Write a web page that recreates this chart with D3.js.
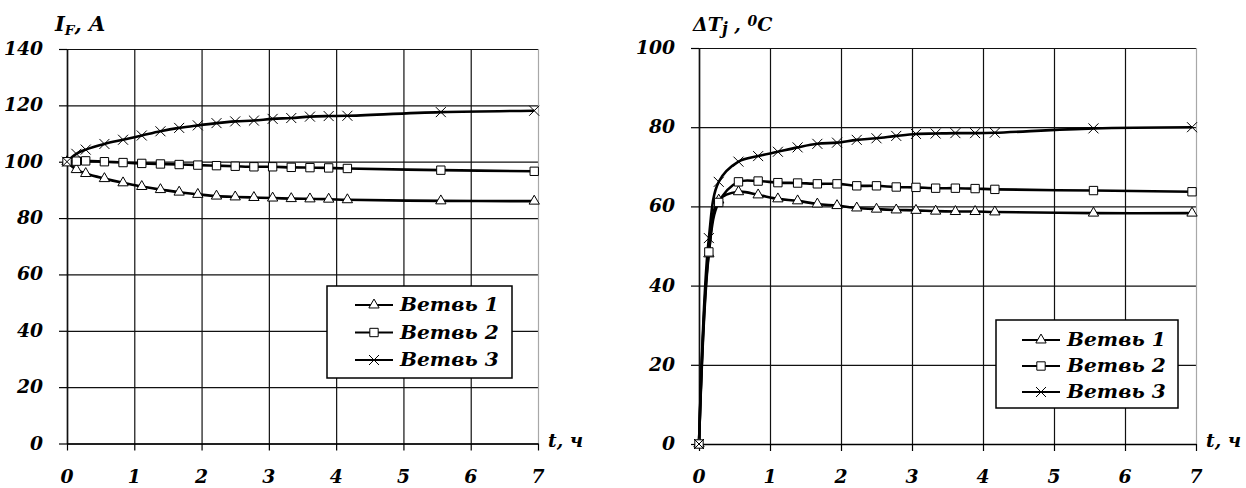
<!DOCTYPE html>
<html>
<head>
<meta charset="utf-8">
<script src="https://cdn.jsdelivr.net/npm/d3@7"></script>
<style>
  html, body { margin: 0; padding: 0; background: #fff; }
  svg { display: block; }
</style>
</head>
<body>
<svg id="chart" width="1246" height="488"></svg>
<script>
// ---- data ----
const times = [0, 0.139, 0.278, 0.556, 0.833, 1.111, 1.389, 1.667, 1.944, 2.222, 2.5, 2.778, 3.056, 3.333, 3.611, 3.889, 4.167, 5.556, 6.944];

// Left chart: current I_F, A
const currentBranch1 = [100, 97.2, 95.8, 94.0, 92.5, 91.2, 90.1, 89.2, 88.4, 87.8, 87.5, 87.3, 87.1, 86.9, 86.8, 86.7, 86.5, 86.1, 86.0];
const currentBranch2 = [100, 100.2, 100.3, 100.0, 99.7, 99.4, 99.2, 99.0, 98.8, 98.6, 98.4, 98.2, 98.2, 98.0, 97.9, 97.8, 97.6, 97.0, 96.6];
const currentBranch3 = [100, 102.8, 104.3, 106.3, 107.8, 109.3, 110.8, 112.0, 112.9, 113.7, 114.3, 114.6, 115.2, 115.5, 116.0, 116.2, 116.3, 117.6, 118.1];

// Right chart: overheating dT_j, °C
const tempBranch1 = [0, 48.0, 61.6, 63.7, 62.9, 61.9, 61.4, 60.6, 60.2, 59.6, 59.3, 59.1, 59.0, 58.8, 58.7, 58.7, 58.6, 58.3, 58.3];
const tempBranch2 = [0, 48.5, 61.0, 66.2, 66.4, 66.0, 65.9, 65.7, 65.7, 65.2, 65.2, 64.9, 64.8, 64.6, 64.6, 64.5, 64.3, 64.0, 63.7];
const tempBranch3 = [0, 52.0, 66.2, 71.3, 72.7, 73.8, 74.9, 75.8, 76.1, 76.8, 77.2, 77.8, 78.3, 78.4, 78.5, 78.5, 78.6, 79.7, 80.0];

const seriesNames = ["Ветвь 1", "Ветвь 2", "Ветвь 3"];
const seriesMarkers = ["triangle", "square", "cross"];
const xTicks = [0, 1, 2, 3, 4, 5, 6, 7];
const currentTicks = [0, 20, 40, 60, 80, 100, 120, 140];
const tempTicks = [0, 20, 40, 60, 80, 100];
const xAxisTitle = "t, ч";

// ---- drawing ----
const svg = d3.select("#chart");
const FONT = "'DejaVu Serif', serif";
const SX = 1.04;

function styleText(t, size) {
  return t.attr("font-family", FONT).attr("font-weight", "bold").attr("font-style", "italic")
    .attr("font-size", size).attr("fill", "#000");
}

function addText(g, x, y, str, anchor, size, sx) {
  return styleText(g.append("text"), size)
    .attr("transform", `translate(${x},${y}) scale(${sx || SX},1)`)
    .attr("text-anchor", anchor)
    .text(str);
}

function markerPath(type) {
  if (type === "triangle") return d3.symbol().type(d3.symbolTriangle).size(46)();
  if (type === "square") return d3.symbol().type(d3.symbolSquare).size(70)();
  return "M-5,-5L5,5M-5,5L5,-5";
}

function drawPanel(cfg) {
  const g = svg.append("g");
  const x = d3.scaleLinear().domain([0, 7]).range([cfg.x0, cfg.x1]);
  const y = d3.scaleLinear().domain(cfg.yDomain).range([cfg.yBot, cfg.yTop]);
  const w = cfg.x1 - cfg.x0, h = cfg.yBot - cfg.yTop;

  const yAxis = d3.axisLeft(y).tickValues(cfg.yTicks).tickFormat("").tickSizeInner(-w).tickSizeOuter(0);
  const ya = g.append("g").attr("transform", `translate(${cfg.x0},0)`).call(yAxis);
  ya.select(".domain").remove();
  ya.selectAll(".tick line").attr("stroke", "#111").attr("stroke-width", 1.2);
  const yTickMarks = d3.axisLeft(y).tickValues(cfg.yTicks).tickFormat("").tickSize(8).tickSizeOuter(0);
  const yt = g.append("g").attr("transform", `translate(${cfg.x0},0)`).call(yTickMarks);
  yt.select(".domain").attr("stroke", "#000").attr("stroke-width", 1.5);
  yt.selectAll(".tick line").attr("stroke", "#000").attr("stroke-width", 1.2);

  const xAxis = d3.axisBottom(x).tickValues(xTicks).tickFormat("").tickSizeInner(-h).tickSizeOuter(0);
  const xa = g.append("g").attr("transform", `translate(0,${cfg.yBot})`).call(xAxis);
  xa.select(".domain").remove();
  xa.selectAll(".tick line").attr("stroke", d => d === 7 ? "#a8a8a8" : "#111").attr("stroke-width", 1.2);
  const xTickMarks = d3.axisBottom(x).tickValues(xTicks).tickFormat("").tickSize(7).tickSizeOuter(0);
  const xt = g.append("g").attr("transform", `translate(0,${cfg.yBot})`).call(xTickMarks);
  xt.select(".domain").attr("stroke", "#000").attr("stroke-width", 1.5);
  xt.selectAll(".tick line").attr("stroke", "#000").attr("stroke-width", 1.2);

  cfg.yTicks.forEach(v => addText(g, cfg.x0 - 24, y(v) + 6, String(v), "end", 18));
  xTicks.forEach(v => addText(g, x(v), 483, String(v), "middle", 18));
  addText(g, cfg.x1 + 10, 447, xAxisTitle, "start", 18);

  const line = d3.line().x((d, i) => x(times[i])).y(d => y(d)).curve(d3.curveCatmullRom.alpha(0.5));
  cfg.series.forEach((vals) => {
    g.append("path").datum(vals).attr("d", line)
      .attr("fill", "none").attr("stroke", "#000").attr("stroke-width", 2.6);
  });
  cfg.series.forEach((vals, si) => {
    g.append("g").selectAll("path").data(vals).join("path")
      .attr("transform", (d, i) => `translate(${x(times[i])},${y(d)})`)
      .attr("d", markerPath(seriesMarkers[si]))
      .attr("fill", seriesMarkers[si] === "cross" ? "none" : "#fff")
      .attr("stroke", "#000").attr("stroke-width", 1);
  });

  const L = cfg.legend;
  const lg = g.append("g");
  lg.append("rect").attr("x", L.x).attr("y", L.y).attr("width", L.w).attr("height", L.h)
    .attr("fill", "#fff").attr("stroke", "#000").attr("stroke-width", 1.5);
  seriesNames.forEach((name, i) => {
    const cy = L.y + L.first + i * L.step;
    lg.append("line").attr("x1", L.lx).attr("x2", L.lx + 38).attr("y1", cy).attr("y2", cy)
      .attr("stroke", "#000").attr("stroke-width", 2);
    lg.append("path").attr("transform", `translate(${L.lx + 19},${cy})`)
      .attr("d", markerPath(seriesMarkers[i]))
      .attr("fill", seriesMarkers[i] === "cross" ? "none" : "#fff")
      .attr("stroke", "#000").attr("stroke-width", 1);
    addText(lg, L.lx + 45, cy + 6, name, "start", 18, 1.12);
  });
  return g;
}

drawPanel({
  x0: 67, x1: 538, yTop: 49, yBot: 443.5, yDomain: [0, 140], yTicks: currentTicks,
  series: [currentBranch1, currentBranch2, currentBranch3],
  legend: { x: 327, y: 286, w: 185, h: 92, lx: 355, first: 19, step: 27.5 }
});
drawPanel({
  x0: 699, x1: 1196, yTop: 48, yBot: 444, yDomain: [0, 100], yTicks: tempTicks,
  series: [tempBranch1, tempBranch2, tempBranch3],
  legend: { x: 996, y: 320, w: 182, h: 88, lx: 1022, first: 20, step: 26 }
});

const t1 = styleText(svg.append("text"), 20).attr("transform", `translate(55,31) scale(1.05,1)`);
t1.append("tspan").text("I");
t1.append("tspan").attr("dy", 4).attr("font-size", 13).text("F");
t1.append("tspan").attr("dy", -4).text(", A");

const t2 = styleText(svg.append("text"), 19).attr("transform", `translate(693,31) scale(1.0,1)`);
t2.append("tspan").text("ΔT");
t2.append("tspan").attr("dy", 3).attr("font-size", 16).text("j");
t2.append("tspan").attr("dy", -3).text(" , ");
t2.append("tspan").attr("dy", -5).attr("font-size", 14).text("0");
t2.append("tspan").attr("dy", 5).text("C");
</script>
</body>
</html>
